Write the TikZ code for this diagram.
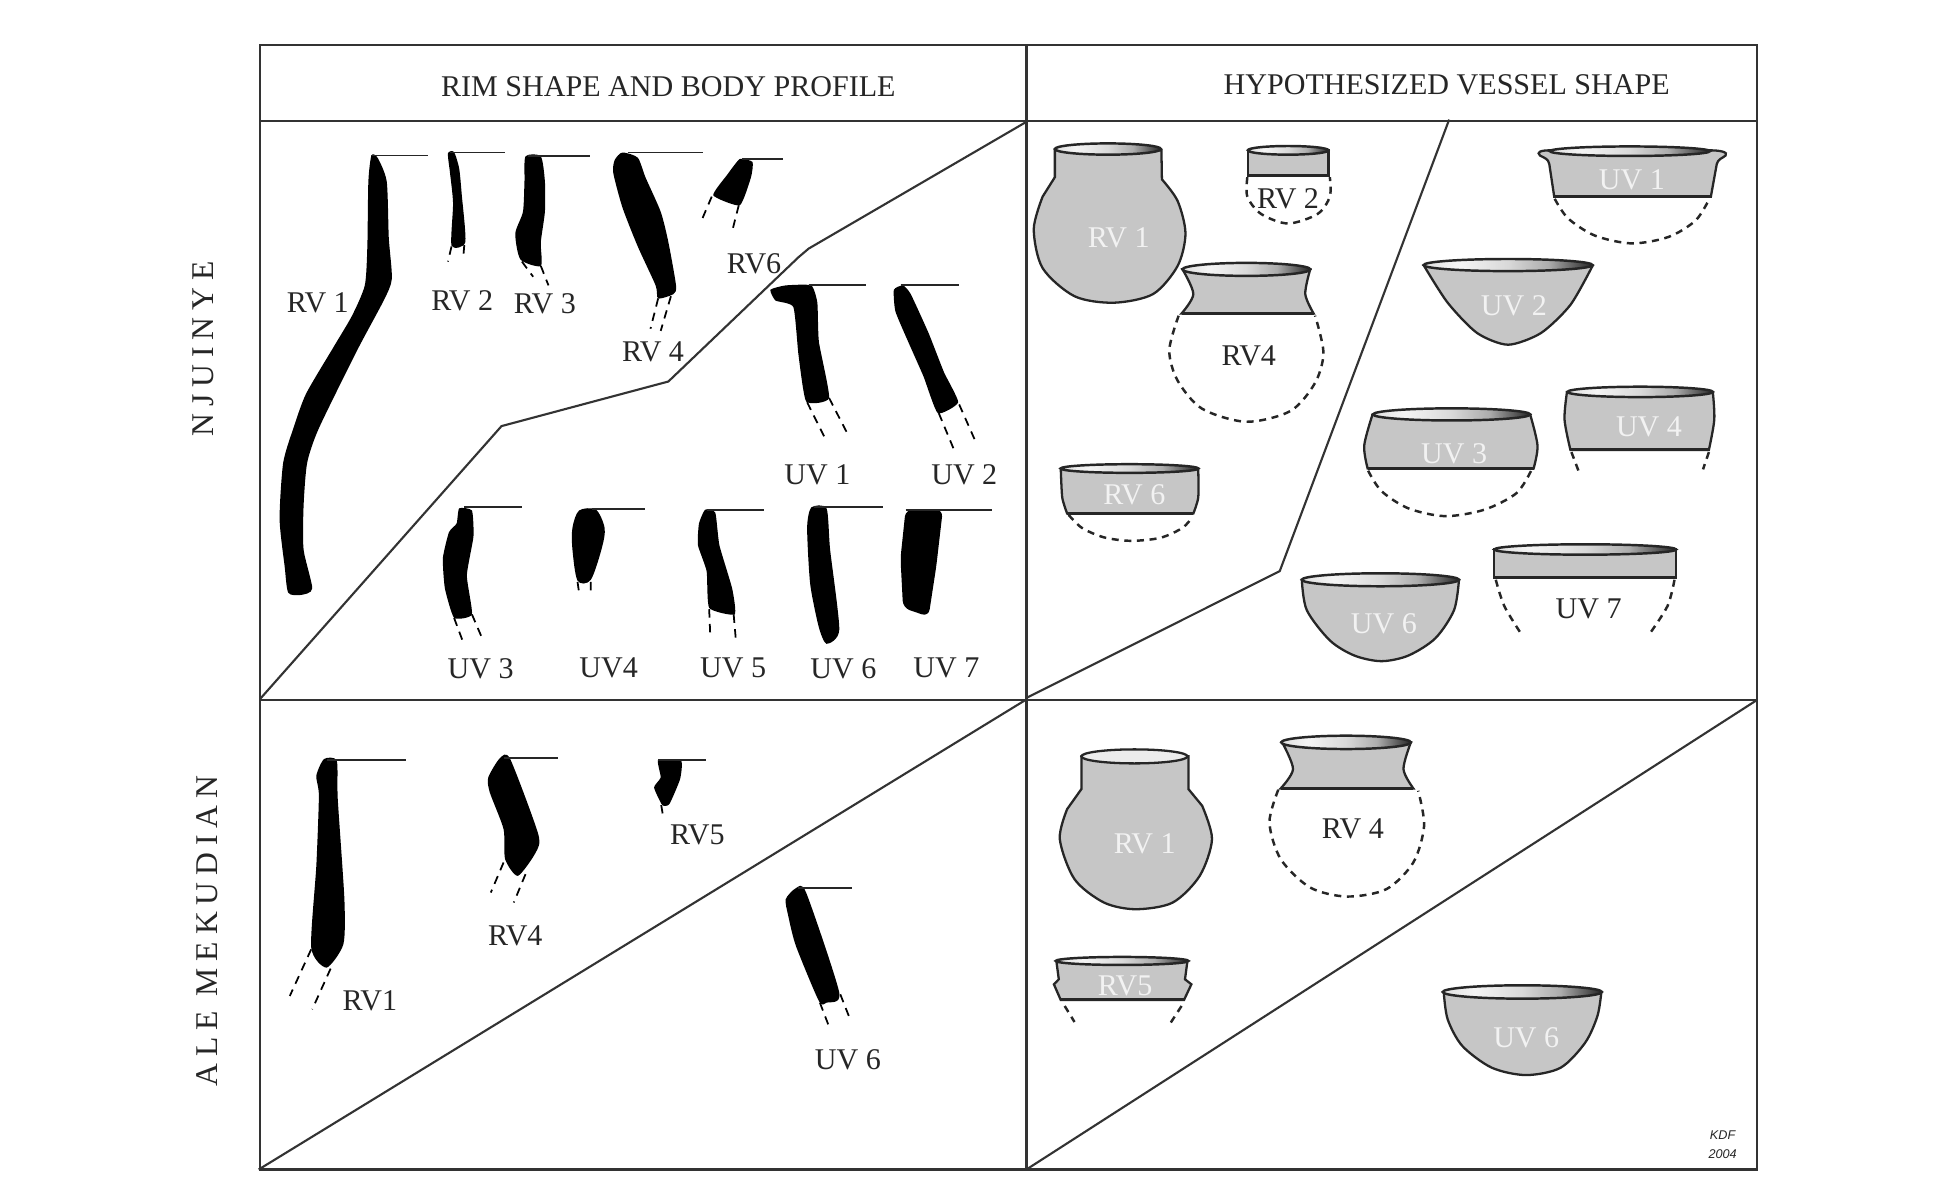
\documentclass[tikz,border=0pt]{standalone}
\usepackage{fontspec}
\setmainfont{Liberation Serif}
\newfontfamily\kdffont{Liberation Sans}
\pgfdeclarehorizontalshading{rimshade}{100bp}{color(0bp)=(gray!25);color(25bp)=(gray!25);color(35bp)=(gray!8);color(50bp)=(gray!30);color(62bp)=(gray!65);color(75bp)=(black!85);color(100bp)=(black!85)}
\definecolor{potgray}{HTML}{C6C6C6}
\definecolor{framegray}{HTML}{333333}
\tikzset{
	panel/.style={draw=framegray,line width=.6pt},
	rimline/.style={draw=black!85,line width=.55pt},
	sherd/.style={fill=black},
	stub/.style={draw=black,line width=.5pt,dash pattern=on 2.4pt off 1.8pt},
	potbody/.style={draw=black!85,fill=potgray,line width=.65pt},
	potbase/.style={draw=black!85,line width=.85pt},
	rimtop/.style={draw=black!85,line width=.7pt,shading=rimshade},
	gone/.style={draw=black!85,line width=.7pt,dash pattern=on 2pt off 1.6pt},
	tag/.style={font=\fontsize{8.55}{10}\selectfont,text=black!85,inner sep=0pt,yshift=-.55pt},
	whitetag/.style={tag,text=white!95!black},
	sidetag/.style={font=\fontsize{9}{10}\selectfont\addfontfeature{LetterSpace=22},text=black!85,inner sep=0pt,rotate=90},
	zoomtop/.style={yscale=.4329},
	zoombot/.style={yscale=.3337},
}
\begin{document}
\begin{tikzpicture}[x=.01cm,y=-.01cm]
	\useasboundingbox (0,0) rectangle (1948,1204);
	\fill[white] (0,0) rectangle (1948,1204);
	% frame and panels
	\draw[panel] (260,44.7) rectangle (1757,1169.5);
	\draw[panel] (260,121)--(1757,121);
	\draw[panel] (260,700)--(1757,700);
	\draw[panel] (1026.5,44.7)--(1026.5,1169.5);
	\node[sidetag] (njuinye) at (203,349) {NJUINYE};
	\node[sidetag] (mekudian) at (207,931) {ALE MEKUDIAN};
	% upper left
	\begin{scope}[shift={(250,30)},xscale=.5102,zoomtop]
		\draw[panel] (1522,212)--(1095,505)--(1075,525)--(820,812)--(493,915)--(20,1545);
		\node[tag] (rimhead) at (820,127) {RIM SHAPE AND BODY PROFILE};
		\fill[sherd] plot[smooth cycle,tension=.4] coordinates {(238,290)(250,295)(268,350)(272,480)(278,575)(262,625)(210,740)(135,920)(112,1000)(105,1100)(105,1200)(122,1290)(100,1305)(75,1300)(68,1240)(58,1130)(65,1000)(85,920)(110,840)(165,730)(200,660)(225,590)(230,500)(232,350)};
		\draw[rimline] (238,290)--(348,290);
		\fill[sherd] plot[smooth cycle,tension=.4] coordinates {(388,285)(400,282)(410,320)(415,380)(422,490)(395,498)(398,400)(392,330)};
		\draw[rimline] (392,283)--(500,283);
		\draw[stub] (395,500)--(388,535) (420,497)--(418,525);
		\fill[sherd] plot[smooth cycle,tension=.4] coordinates {(540,292)(570,292)(578,350)(578,420)(570,490)(570,545)(530,530)(520,470)(535,420)(538,350)};
		\draw[rimline] (545,291)--(667,291);
		\draw[stub] (533,535)--(555,570) (570,545)--(585,590);
		\fill[sherd] plot[smooth cycle,tension=.4] coordinates {(730,283)(760,295)(775,340)(805,420)(820,490)(835,590)(830,610)(800,620)(795,590)(760,500)(730,410)(712,330)(715,300)};
		\draw[rimline] (740,283)--(888,283);
		\draw[stub] (800,620)--(785,690) (825,615)--(805,695);
		\fill[sherd] plot[smooth cycle,tension=.3] coordinates {(960,298)(985,305)(982,340)(960,405)(908,382)(935,335)};
		\draw[rimline] (965,297)--(1045,297);
		\draw[stub] (905,385)--(885,440) (958,405)--(945,465);
		\fill[sherd] plot[smooth cycle,tension=.3] coordinates {(1020,600)(1050,590)(1100,590)(1112,630)(1115,720)(1135,850)(1090,858)(1075,750)(1065,640)(1030,625)};
		\draw[rimline] (1095,590)--(1207,590);
		\draw[stub] (1092,860)--(1130,950) (1135,850)--(1170,930);
		\fill[sherd] plot[smooth cycle,tension=.3] coordinates {(1262,600)(1280,590)(1295,610)(1330,700)(1360,790)(1388,860)(1348,885)(1320,800)(1290,720)(1265,650)};
		\draw[rimline] (1275,590)--(1390,590);
		\draw[stub] (1350,885)--(1380,970) (1390,865)--(1420,945);
		\fill[sherd] plot[smooth cycle,tension=.3] coordinates {(410,1105)(435,1110)(438,1170)(425,1260)(435,1350)(400,1358)(382,1290)(378,1220)(390,1160)(405,1140)};
		\draw[rimline] (420,1102)--(533,1102);
		\draw[stub] (400,1358)--(418,1415) (435,1350)--(455,1405);
		\fill[sherd] plot[smooth cycle,tension=.5] coordinates {(645,1110)(678,1108)(695,1150)(690,1195)(668,1270)(642,1272)(632,1200)(632,1150)};
		\draw[rimline] (670,1106)--(775,1106);
		\draw[stub] (642,1275)--(645,1300) (668,1275)--(668,1300);
		\fill[sherd] plot[smooth cycle,tension=.3] coordinates {(892,1108)(912,1115)(920,1190)(945,1290)(950,1350)(900,1335)(895,1250)(878,1190)(880,1140)};
		\draw[rimline] (895,1108)--(1007,1108);
		\draw[stub] (900,1338)--(902,1395) (948,1350)--(952,1405);
		\fill[sherd] plot[smooth cycle,tension=.4] coordinates {(1100,1103)(1130,1105)(1137,1200)(1155,1385)(1130,1418)(1115,1380)(1098,1280)(1092,1150)};
		\draw[rimline] (1105,1101)--(1240,1101);
		\fill[sherd,rounded corners=2pt] (1285,1108)--(1358,1108)--(1345,1240)--(1330,1355)--(1280,1335)--(1275,1220)--cycle;
		\draw[rimline] (1285,1108)--(1455,1108);
		\foreach \nm/\txt/\x/\y in {rva/RV 1/133/625,rvb/RV 2/416/620,rvc/RV 3/578/628,rvd/RV 4/790/740,rvf/RV6/988/535,uva/UV 1/1112/1022,uvb/UV 2/1400/1022,uvc/UV 3/452/1470,uvd/UV4/703/1470,uve/UV 5/947/1470,uvf/UV 6/1163/1470,uvg/UV 7/1365/1470}
		\node[tag] (\nm) at (\x,\y) {\txt};
	\end{scope}
	% upper right
	\begin{scope}[shift={(1020.5,30)},xscale=.491,zoomtop]
		\draw[panel] (873,207)--(528,1250)--(12,1543);
		\node[tag] (vesselhead) at (868,122) {HYPOTHESIZED VESSEL SHAPE};
		\draw[potbody] (70,278)--(70,340)--plot[smooth,tension=.5] coordinates {(45,385)(27,460)(45,550)(110,615)(190,630)(270,610)(320,545)(336,470)(320,395)(288,345)}--(287,278)--cycle;
		\draw[rimtop] (178,275) ellipse (108 and 13);
		\draw[potbody] (463,278)--(463,337)--(627,337)--(627,278)--cycle;
		\draw[potbase] (463,337)--(627,337);
		\draw[rimtop] (545,278) ellipse (82 and 10);
		\draw[gone] plot[smooth,tension=.5] coordinates {(462,340)(462,385)(490,425)(545,447)(605,425)(630,385)(630,340)};
		\draw[potbody] plot[smooth,tension=.5] coordinates {(330,553)(352,610)(328,655)}--plot[smooth,tension=.5] coordinates {(597,655)(580,610)(590,553)}--cycle;
		\draw[potbase] (328,655)--(597,655);
		\draw[rimtop] (460,553) ellipse (130 and 15);
		\draw[gone] plot[smooth,tension=.5] coordinates {(322,660)(303,740)(320,810)(370,875)(460,905)(550,880)(600,815)(617,745)(600,660)};
		\draw[potbody] plot[smooth,tension=.4] coordinates {(82,1013)(85,1080)(95,1117)}--plot[smooth,tension=.4] coordinates {(352,1117)(362,1080)(362,1013)}--cycle;
		\draw[potbase] (95,1117)--(352,1117);
		\draw[rimtop] (222,1013) ellipse (140 and 10);
		\draw[gone] plot[smooth,tension=.5] coordinates {(98,1120)(125,1150)(170,1172)(225,1180)(285,1173)(330,1150)(350,1125)};
		\draw[potbody] (1078,278) .. controls (1060,278) and (1050,282) .. (1058,290) .. controls (1068,296) and (1075,298) .. (1077,310)--(1087,385)--(1406,385)--(1418,310) .. controls (1420,298) and (1430,296) .. (1436,290) .. controls (1442,282) and (1425,278) .. (1404,278)--cycle;
		\draw[potbase] (1087,385)--(1406,385);
		\draw[rimtop] (1241,280) ellipse (163 and 11);
		\draw[gone] plot[smooth,tension=.5] coordinates {(1088,390)(1115,435)(1170,475)(1245,493)(1320,478)(1375,440)(1403,390)};
		\draw[potbody] plot[smooth,tension=.45] coordinates {(822,545)(870,630)(930,700)(993,727)(1060,700)(1120,635)(1165,545)}--cycle;
		\draw[rimtop] (993,543) ellipse (172 and 14);
		\draw[potbody] plot[smooth,tension=.5] coordinates {(717,888)(700,960)(707,1013)}--plot[smooth,tension=.5] coordinates {(1045,1013)(1053,960)(1038,888)}--cycle;
		\draw[potbase] (707,1013)--(1045,1013);
		\draw[rimtop] (878,888) ellipse (160 and 14);
		\draw[gone] plot[smooth,tension=.5] coordinates {(708,1018)(735,1065)(790,1105)(865,1123)(945,1108)(1010,1070)(1040,1018)};
		\draw[potbody] plot[smooth,tension=.5] coordinates {(1113,836)(1108,900)(1120,970)}--plot[smooth,tension=.5] coordinates {(1402,970)(1413,900)(1410,836)}--cycle;
		\draw[potbase] (1120,970)--(1402,970);
		\draw[rimtop] (1262,836) ellipse (148 and 12);
		\draw[gone] (1122,975)--(1137,1020) (1402,975)--(1390,1015);
		\draw[potbody] (965,1200)--(965,1265)--(1335,1265)--(1335,1200)--cycle;
		\draw[potbase] (965,1265)--(1335,1265);
		\draw[rimtop] (1150,1200) ellipse (185 and 12);
		\draw[gone] plot[smooth] coordinates {(968,1270)(985,1330)(1018,1392)};
		\draw[gone] plot[smooth] coordinates {(1332,1270)(1318,1330)(1283,1392)};
		\draw[potbody] plot[smooth,tension=.5] coordinates {(573,1270)(583,1340)(630,1410)(680,1445)(735,1458)(790,1445)(845,1405)(883,1340)(893,1270)}--cycle;
		\draw[rimtop] (733,1270) ellipse (160 and 15);
		\foreach \nm/\txt/\x/\y in {vra/RV 1/200/475,vrf/RV 6/232/1070,vua/UV 1/1245/342,vub/UV 2/1005/632,vuc/UV 3/883/975,vud/UV 4/1280/912,vuf/UV 6/740/1368}
		\node[whitetag] (\nm) at (\x,\y) {\txt};
		\node[tag] (vrb) at (545,385) {RV 2};
		\node[tag] (vrd) at (465,748) {RV4};
		\node[tag] (vug) at (1157,1332) {UV 7};
	\end{scope}
	% lower left
	\begin{scope}[shift={(250,699)},xscale=.5102,zoombot]
		\draw[panel] (17,1410)--(1520,3);
		\fill[sherd] plot[smooth cycle,tension=.4] coordinates {(130,230)(145,180)(170,185)(172,300)(185,600)(183,735)(150,805)(120,745)(130,500)(135,290)};
		\draw[rimline] (150,182)--(305,182);
		\draw[stub] (120,750)--(78,890) (158,808)--(122,930);
		\fill[sherd] plot[smooth cycle,tension=.4] coordinates {(467,235)(490,177)(510,180)(565,405)(560,460)(525,530)(500,480)(497,390)(470,280)};
		\draw[rimline] (497,177)--(603,177);
		\draw[stub] (497,490)--(472,580) (540,525)--(517,610);
		\fill[sherd] plot[smooth cycle,tension=.3] coordinates {(800,182)(845,185)(843,240)(822,315)(808,318)(792,265)(805,235)};
		\draw[rimline] (800,183)--(893,183);
		\draw[stub] (806,318)--(810,355);
		\fill[sherd] plot[smooth cycle,tension=.4] coordinates {(1050,600)(1070,567)(1090,580)(1155,880)(1130,910)(1115,905)(1070,740)(1055,650)};
		\draw[rimline] (1075,567)--(1180,567);
		\draw[stub] (1117,910)--(1137,990) (1157,885)--(1175,955);
		\foreach \nm/\txt/\x/\y in {lra/RV1/235/900,lrd/RV4/520/705,lre/RV5/877/400,luf/UV 6/1172/1075}
		\node[tag] (\nm) at (\x,\y) {\txt};
	\end{scope}
	% lower right
	\begin{scope}[shift={(1020.5,699)},xscale=.491,zoombot]
		\draw[panel] (12,1410)--(1500,3);
		\draw[potbody] (124,172)--(124,270)--plot[smooth,tension=.5] coordinates {(95,330)(80,420)(110,540)(170,610)(235,630)(310,610)(365,530)(390,420)(370,320)}--(342,270)--(342,172)--cycle;
		\draw[potbody,fill=gray!15] (232,172) ellipse (108 and 21);
		\draw[potbody] plot[smooth,tension=.5] coordinates {(533,130)(555,210)(530,268)}--plot[smooth,tension=.5] coordinates {(800,268)(780,210)(795,130)}--cycle;
		\draw[potbase] (530,268)--(800,268);
		\draw[rimtop] (663,130) ellipse (132 and 20);
		\draw[gone] plot[smooth,tension=.5] coordinates {(525,272)(507,370)(530,480)(590,565)(665,592)(745,570)(800,490)(822,380)(810,275)};
		\draw[potbody] (73,785)--(78,840)--(68,855)--(82,902)--(333,902)--(348,855)--(335,840)--(340,785)--cycle;
		\draw[potbase] (82,902)--(333,902);
		\draw[rimtop] (207,785) ellipse (135 and 12);
		\draw[gone] (90,920)--(110,968) (328,920)--(305,972);
		\draw[potbody] plot[smooth,tension=.5] coordinates {(862,878)(870,960)(900,1040)(960,1105)(1030,1127)(1100,1105)(1150,1030)(1175,950)(1183,878)}--cycle;
		\draw[rimtop] (1022,878) ellipse (162 and 20);
		\foreach \nm/\txt/\x/\y in {wra/RV 1/253/428,wre/RV5/213/855,wuf/UV 6/1030/1010}
		\node[whitetag] (\nm) at (\x,\y) {\txt};
		\node[tag] (wrd) at (677,382) {RV 4};
		\node[tag,font=\kdffont\itshape\fontsize{3.6}{5.6}\selectfont,align=center] (kdf) at (1430,1330) {KDF\\2004};
	\end{scope}
\end{tikzpicture}
\end{document}
